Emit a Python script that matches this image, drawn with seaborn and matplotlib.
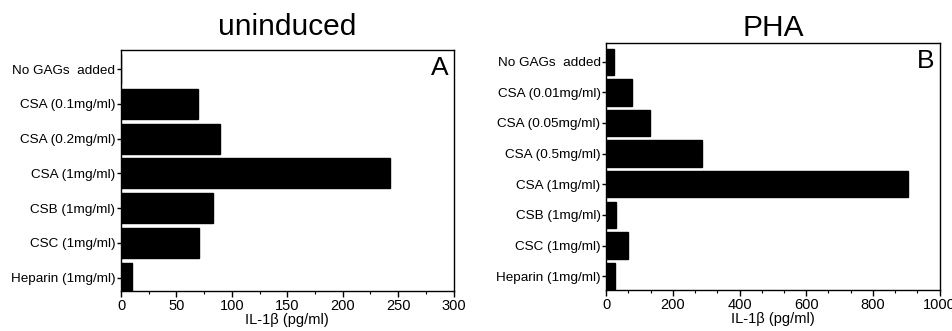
import matplotlib
matplotlib.use("Agg")
import matplotlib.pyplot as plt
import seaborn as sns
import pandas as pd
from matplotlib.ticker import AutoMinorLocator, MultipleLocator

sns.set_theme(style="white")
plt.rcParams['font.family'] = ['Liberation Sans', 'DejaVu Sans']
plt.rcParams['text.color'] = 'black'
plt.rcParams['axes.labelcolor'] = 'black'
plt.rcParams['xtick.color'] = 'black'
plt.rcParams['ytick.color'] = 'black'

cats_a = ["No GAGs  added", "CSA (0.1mg/ml)", "CSA (0.2mg/ml)", "CSA (1mg/ml)",
          "CSB (1mg/ml)", "CSC (1mg/ml)", "Heparin (1mg/ml)"]
vals_a = [0, 69, 89, 243, 83, 70, 10]

cats_b = ["No GAGs  added", "CSA (0.01mg/ml)", "CSA (0.05mg/ml)", "CSA (0.5mg/ml)",
          "CSA (1mg/ml)", "CSB (1mg/ml)", "CSC (1mg/ml)", "Heparin (1mg/ml)"]
vals_b = [24, 77, 132, 287, 905, 31, 65, 28]

titles = ["uninduced", "PHA"]
letters = ["A", "B"]
xlabel = "IL-1β (pg/ml)"

fig = plt.figure(figsize=(9.53, 3.31), dpi=100)
ax_a = fig.add_axes([0.127, 0.121, 0.349, 0.728])
ax_b = fig.add_axes([0.636, 0.124, 0.350, 0.746])

specs = [
    (ax_a, cats_a, vals_a, (0, 300), 50, 2, (6.38, -0.55), 11),
    (ax_b, cats_b, vals_b, (0, 1000), 200, 3, (7.45, -0.61), 5),
]

for i, (ax, cats, vals, xlim, major, minor, ylim, tpad) in enumerate(specs):
    df = pd.DataFrame({"cat": cats, "val": vals})
    sns.barplot(data=df, x="val", y="cat", ax=ax, color="black", width=0.86,
                saturation=1, edgecolor="black", orient="h")
    ax.set_xlim(*xlim)
    ax.set_ylim(*ylim)
    ax.xaxis.set_major_locator(MultipleLocator(major))
    ax.xaxis.set_minor_locator(AutoMinorLocator(minor))
    ax.set_ylabel("")
    ax.set_xlabel(xlabel, fontsize=10.5, labelpad=0)
    ax.set_title(titles[i], fontsize=21.5, pad=tpad, color="black")
    ax.tick_params(axis="x", which="major", direction="out", length=4, width=1,
                   bottom=True, labelsize=10.5, pad=2)
    ax.tick_params(axis="x", which="minor", direction="out", length=2, width=0.8,
                   bottom=True)
    ax.tick_params(axis="y", which="major", direction="out", length=3, width=1,
                   left=True, labelsize=9.7, pad=1)
    for s in ax.spines.values():
        s.set_visible(True)
        s.set_color("black")
        s.set_linewidth(1)
    ax.text(0.985, 0.975, letters[i], transform=ax.transAxes, ha="right", va="top",
            fontsize=19, color="black")

fig.savefig("out.png", dpi=100)
